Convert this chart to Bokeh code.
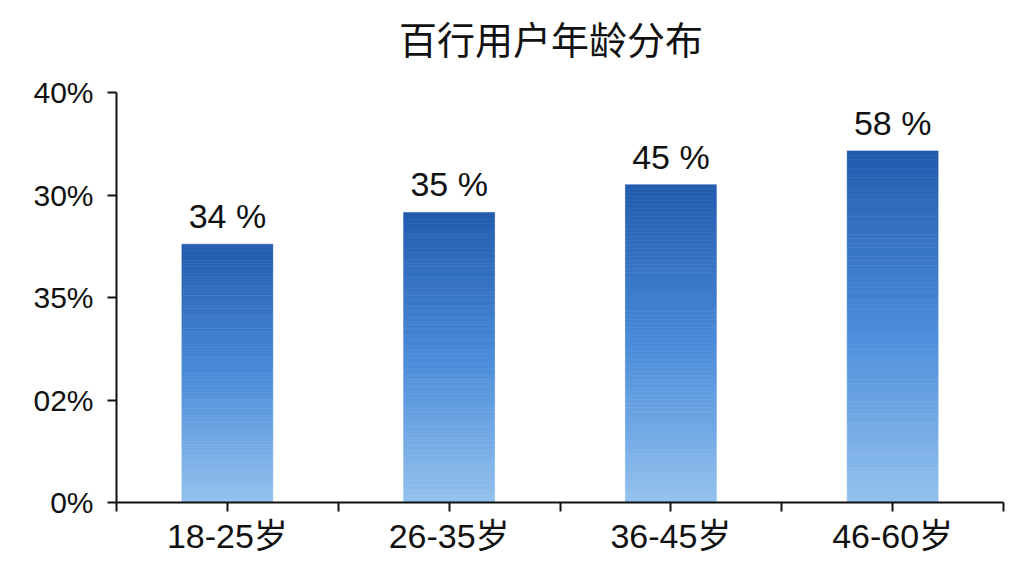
from bokeh.plotting import figure
from bokeh.embed import file_html
from bokeh.resources import INLINE
from bokeh.models import FixedTicker, ColumnDataSource, Label
from bokeh.core.properties import value

# ---- data ----
categories = ["18-25岁", "26-35岁", "36-45岁", "46-60岁"]
bar_values = [25.2, 28.3, 31.0, 34.3]          # bar heights
value_labels = ["34 %", "35 %", "45 %", "58 %"]  # labels printed above bars
y_ticks = [0, 10, 20, 30, 40]
y_tick_labels = ["0%", "02%", "35%", "30%", "40%"]
title_text = "百行用户年龄分布"

FONT = "Liberation Sans, Noto Sans CJK SC"
Y_MAX = 40
Y_TOP = 48   # extra headroom above the axis for the title

p = figure(width=1024, height=576, output_backend="svg", toolbar_location=None,
           x_range=(0.5, len(categories) + 0.5), y_range=(0, Y_TOP),
           min_border_left=116, min_border_right=21, min_border_top=10, min_border_bottom=74)
p.outline_line_color = None
p.grid.visible = False
p.background_fill_color = "white"

# gradient bars made of thin slices (bottom light -> top dark)
stops = [(0.0, (0x94, 0xc2, 0xee)), (0.5, (0x4a, 0x8b, 0xd9)), (1.0, (0x23, 0x5b, 0xae))]
def grad(t):
    for (t0, c0), (t1, c1) in zip(stops[:-1], stops[1:]):
        if t <= t1:
            f = (t - t0) / (t1 - t0)
            return "#%02x%02x%02x" % tuple(int(round(a + (b - a) * f)) for a, b in zip(c0, c1))
    return "#%02x%02x%02x" % stops[-1][1]

N = 80
bw = 0.41
L, R, B, T, C = [], [], [], [], []
for i, v in enumerate(bar_values):
    xc = i + 1
    for k in range(N):
        L.append(xc - bw / 2); R.append(xc + bw / 2)
        B.append(v * k / N); T.append(v * (k + 1) / N)
        C.append(grad((k + 0.5) / N))
p.quad(left=L, right=R, bottom=B, top=T, fill_color=C, line_color=C, line_width=0.6)

src = ColumnDataSource(dict(x=list(range(1, len(categories) + 1)), y=bar_values, t=value_labels))
p.text(x="x", y="y", text="t", source=src, y_offset=-9, text_align="center",
       text_baseline="bottom", text_font=value(FONT), text_font_size="34px", text_color="#111111")

# axes
p.xaxis.ticker = FixedTicker(ticks=list(range(1, len(categories) + 1)),
                             minor_ticks=[i + 0.5 for i in range(len(categories) + 1)])
p.xaxis.major_label_overrides = {i + 1: c for i, c in enumerate(categories)}
p.yaxis.ticker = FixedTicker(ticks=y_ticks)
p.yaxis.major_label_overrides = {t: s for t, s in zip(y_ticks, y_tick_labels)}
p.yaxis.bounds = (0, Y_MAX)

for ax in (p.xaxis, p.yaxis):
    ax.axis_line_color = "#111111"
    ax.axis_line_width = 2
    ax.major_tick_line_color = "#111111"
    ax.major_tick_line_width = 2
    ax.major_tick_in = 0
    ax.major_tick_out = 9
    ax.major_label_text_font = FONT
    ax.major_label_text_color = "#111111"
p.xaxis.major_label_text_font_size = "34px"
p.yaxis.major_label_text_font_size = "30px"
p.xaxis.minor_tick_line_color = "#111111"
p.xaxis.minor_tick_line_width = 2
p.xaxis.minor_tick_in = 0
p.xaxis.minor_tick_out = 9
p.yaxis.minor_tick_line_color = None
p.xaxis.major_label_standoff = 5
p.yaxis.major_label_standoff = 14

# title as a label above the axis top
title = Label(x=(len(categories) + 1) / 2, y=Y_MAX, x_offset=-9, y_offset=55,
              text=title_text, text_align="center", text_baseline="middle",
              text_font="Noto Sans CJK SC", text_font_size="38px", text_color="#111111")
p.add_layout(title)

open("out.html", "w").write(file_html(p, INLINE))
